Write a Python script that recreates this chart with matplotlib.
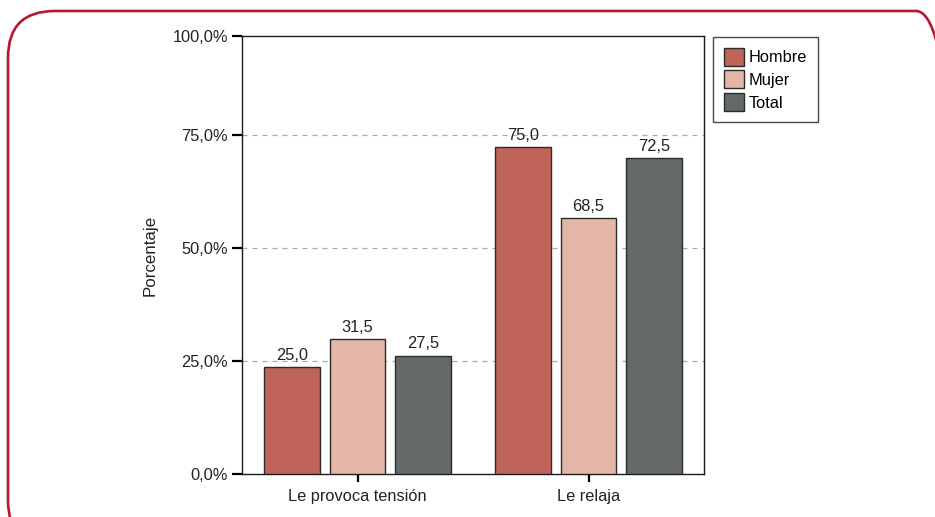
import matplotlib
matplotlib.use('Agg')
import matplotlib.pyplot as plt
from matplotlib.patches import FancyBboxPatch, Patch
import numpy as np

plt.rcParams['font.family'] = ['Liberation Sans', 'DejaVu Sans']

# data
categories = ['Le provoca tensión', 'Le relaja']
series = ['Hombre', 'Mujer', 'Total']
# bar heights as drawn in the source chart (%)
hombre = [23.7, 72.3]
mujer = [29.9, 56.6]
total = [26.2, 69.8]
# printed value labels
hombre_lbl = [25.0, 75.0]
mujer_lbl = [31.5, 68.5]
total_lbl = [27.5, 72.5]
ytick_vals = [0, 25, 50, 75, 96.9]
ytick_lbls = ['0,0%', '25,0%', '50,0%', '75,0%', '100,0%']

colors = ['#c0645a', '#e4b6a8', '#646a69']
edge = '#2b2b2b'
fs = 11.8

fig = plt.figure(figsize=(9.35, 5.17), dpi=100)

# rounded red frame around the chart
frame = FancyBboxPatch((8 / 935, -30 / 517), 955 / 935, (517 - 11 + 30) / 517,
                       boxstyle='round,pad=0,rounding_size=0.05',
                       transform=fig.transFigure, fill=False,
                       edgecolor='#b5182f', linewidth=1.9, clip_on=False,
                       mutation_aspect=935 / 517)
fig.patches.append(frame)

ax = fig.add_axes([242 / 935, 43 / 517, 462 / 935, 438 / 517])

x = np.arange(len(categories))
w = 0.242
step = 0.284
heights = [hombre, mujer, total]
labels = [hombre_lbl, mujer_lbl, total_lbl]
for i, (name, h, lb) in enumerate(zip(series, heights, labels)):
    bars = ax.bar(x + (i - 1) * step, h, width=w, color=colors[i],
                  edgecolor=edge, linewidth=1.0, label=name, zorder=3)
    for b, v in zip(bars, lb):
        ax.annotate(f'{v:.1f}'.replace('.', ','),
                    (b.get_x() + b.get_width() / 2, b.get_height()),
                    xytext=(0, 3), textcoords='offset points',
                    ha='center', va='bottom', fontsize=fs, color='#222222',
                    zorder=4)

ax.set_xlim(-0.5, 1.5)
ax.set_ylim(0, 96.9)
ax.set_yticks(ytick_vals)
ax.set_yticklabels(ytick_lbls, fontsize=fs, color='#222222')
ax.set_xticks(x)
ax.set_xticklabels(categories, fontsize=fs, color='#222222')
ax.tick_params(axis='y', length=7, width=1.6, pad=3)
ax.tick_params(axis='x', length=6, width=1.6, pad=5)
for yv in [25, 50, 75]:
    ax.axhline(yv, color='#a8a8a8', linestyle=(0, (4, 4)), linewidth=0.9, zorder=1)
for s in ax.spines.values():
    s.set_color('#1a1a1a')
    s.set_linewidth(1.0)
ax.set_ylabel('Porcentaje', fontsize=12.2, color='#222222', labelpad=11)

handles = [Patch(facecolor=c, edgecolor=edge, linewidth=1.0) for c in colors]
leg = fig.legend(handles, series, loc='upper left',
                 bbox_to_anchor=(713 / 935, (517 - 37) / 517),
                 borderaxespad=0, fancybox=False, frameon=True,
                 edgecolor='#1a1a1a', fontsize=fs, handlelength=1.25,
                 handleheight=1.3, handletextpad=0.3, labelspacing=0.3,
                 borderpad=0.65)
leg.get_frame().set_linewidth(1.0)

fig.savefig('out.png', dpi=100)
